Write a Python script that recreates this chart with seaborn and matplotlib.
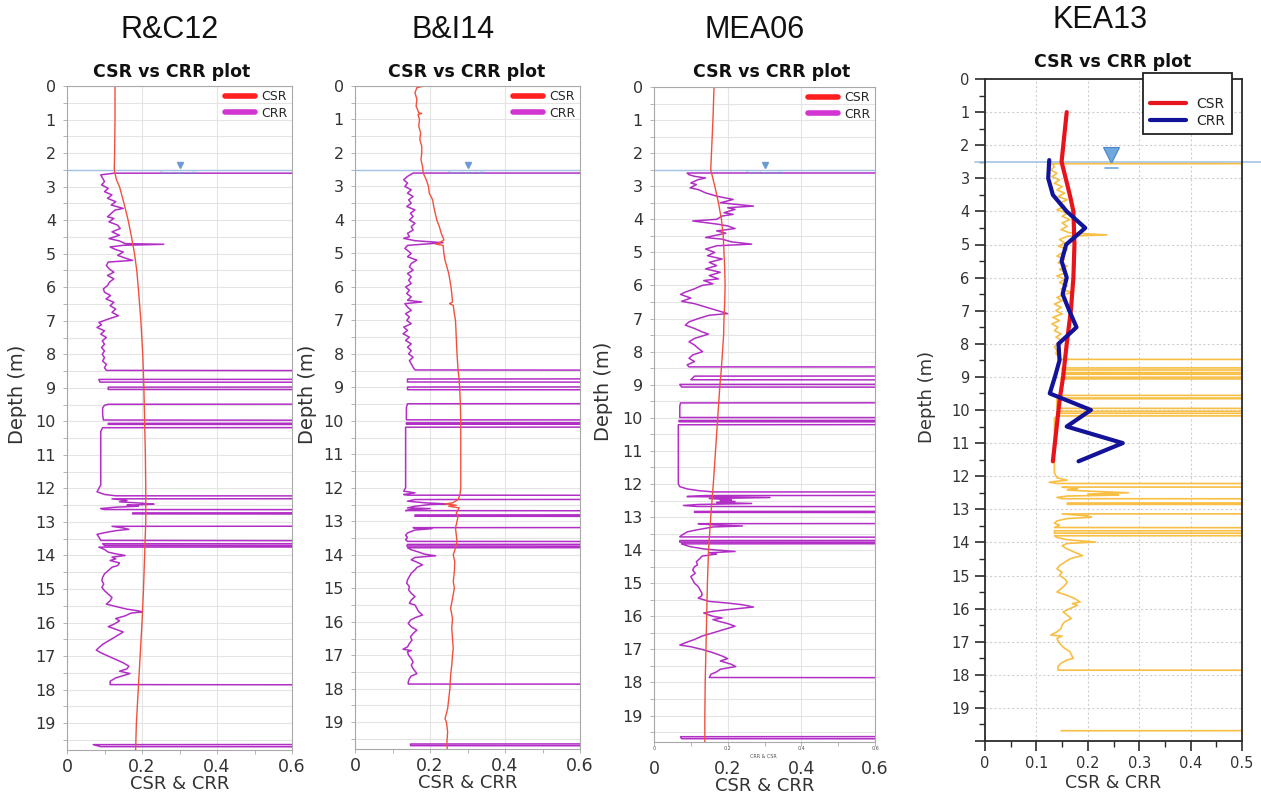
import matplotlib
matplotlib.use("Agg")
import matplotlib.pyplot as plt
import pandas as pd
import seaborn as sns
from matplotlib.lines import Line2D
from matplotlib.ticker import MultipleLocator, FuncFormatter

# ---------------------------------------------------------------- data
NL = 2.0          # CRR assigned to non-liquefiable layers (plots off the axis)
GWT = 2.5         # groundwater table depth (m)

PANELS = ["R&C12", "B&I14", "MEA06", "KEA13"]

RC12_CSR = [(0.0, 0.128), (1.0, 0.128), (2.0, 0.127), (2.5, 0.126), (2.8, 0.132),
            (3.0, 0.140), (3.5, 0.152), (4.0, 0.163), (4.5, 0.172), (5.0, 0.180),
            (5.5, 0.186), (6.0, 0.190), (7.0, 0.197), (8.0, 0.202), (9.0, 0.205),
            (10.0, 0.207), (11.0, 0.209), (12.0, 0.210), (13.0, 0.210), (14.0, 0.207),
            (15.0, 0.204), (16.0, 0.200), (17.0, 0.195), (18.0, 0.190), (19.0, 0.185),
            (19.8, 0.183)]

RC12_CRR = [(2.60, NL), (2.60, 0.125), (2.65, 0.090), (2.75, 0.095), (2.85, 0.100),
            (2.95, 0.092), (3.05, 0.110), (3.15, 0.100), (3.25, 0.120), (3.35, 0.108),
            (3.45, 0.130), (3.55, 0.118), (3.65, 0.150), (3.70, 0.128), (3.80, 0.118),
            (3.90, 0.108), (3.95, 0.125), (4.05, 0.112), (4.15, 0.135), (4.25, 0.142),
            (4.35, 0.120), (4.45, 0.140), (4.55, 0.112), (4.62, 0.140), (4.70, 0.155),
            (4.72, 0.258), (4.75, 0.150), (4.80, 0.115), (4.87, 0.128), (4.95, 0.150),
            (5.05, 0.135), (5.15, 0.160), (5.20, 0.175), (5.25, 0.110), (5.35, 0.105),
            (5.45, 0.112), (5.55, 0.125), (5.65, 0.108), (5.75, 0.125), (5.85, 0.113),
            (5.95, 0.108), (6.05, 0.097), (6.15, 0.100), (6.25, 0.116), (6.35, 0.104),
            (6.45, 0.125), (6.55, 0.115), (6.65, 0.130), (6.75, 0.120), (6.85, 0.137),
            (6.95, 0.110), (7.05, 0.085), (7.12, 0.092), (7.20, 0.080), (7.30, 0.100),
            (7.40, 0.090), (7.50, 0.105), (7.60, 0.094), (7.70, 0.100), (7.80, 0.092),
            (7.90, 0.100), (8.00, 0.094), (8.10, 0.100), (8.20, 0.095), (8.30, 0.105),
            (8.40, 0.100), (8.48, 0.105), (8.50, NL), (8.74, NL), (8.75, 0.085),
            (8.83, 0.088), (8.84, NL), (8.97, NL), (8.98, 0.110), (9.05, 0.110),
            (9.06, NL), (9.48, NL), (9.49, 0.110), (9.52, 0.100), (9.60, 0.095),
            (9.80, 0.095), (9.96, 0.097), (9.98, NL), (10.05, NL), (10.06, 0.110),
            (10.09, 0.110), (10.10, NL), (10.18, NL), (10.19, 0.095), (10.30, 0.090),
            (11.90, 0.090), (12.10, 0.080), (12.18, 0.100), (12.22, 0.130), (12.23, NL),
            (12.30, NL), (12.31, 0.120), (12.36, 0.160), (12.40, 0.140), (12.44, 0.200),
            (12.47, 0.232), (12.50, 0.160), (12.53, 0.190), (12.56, 0.130), (12.60, 0.090),
            (12.63, 0.100), (12.64, NL), (12.72, NL), (12.73, 0.175), (12.76, 0.175),
            (12.77, NL), (13.12, NL), (13.13, 0.120), (13.18, 0.150), (13.22, 0.165),
            (13.26, 0.130), (13.32, 0.100), (13.37, 0.080), (13.45, 0.085), (13.55, 0.090),
            (13.58, NL), (13.64, NL), (13.65, 0.095), (13.70, 0.100), (13.71, NL),
            (13.74, NL), (13.75, 0.085), (13.82, 0.100), (13.90, 0.110), (13.95, 0.130),
            (14.00, 0.155), (14.05, 0.120), (14.10, 0.130), (14.15, 0.115), (14.22, 0.140),
            (14.30, 0.135), (14.35, 0.120), (14.45, 0.110), (14.55, 0.100), (14.65, 0.095),
            (14.75, 0.093), (14.85, 0.098), (14.95, 0.093), (15.05, 0.100), (15.15, 0.110),
            (15.25, 0.120), (15.35, 0.115), (15.45, 0.105), (15.52, 0.130), (15.60, 0.160),
            (15.65, 0.190), (15.68, 0.200), (15.72, 0.170), (15.80, 0.155), (15.88, 0.130),
            (15.95, 0.140), (16.05, 0.125), (16.12, 0.110), (16.20, 0.130), (16.28, 0.150),
            (16.35, 0.140), (16.45, 0.125), (16.55, 0.110), (16.65, 0.095), (16.75, 0.085),
            (16.82, 0.078), (16.90, 0.090), (17.00, 0.110), (17.10, 0.130), (17.20, 0.150),
            (17.30, 0.165), (17.38, 0.160), (17.45, 0.140), (17.52, 0.168), (17.58, 0.150),
            (17.65, 0.130), (17.75, 0.115), (17.85, 0.115), (17.87, NL), (19.63, NL),
            (19.64, 0.070), (19.70, 0.090), (19.71, NL)]

BI14_CSR = [(0.00, 0.185), (0.05, 0.165), (0.20, 0.160), (0.40, 0.165), (0.60, 0.163),
            (0.80, 0.170), (0.82, 0.178), (0.85, 0.168), (1.00, 0.172), (1.20, 0.170),
            (1.40, 0.175), (1.60, 0.173), (1.80, 0.178), (2.00, 0.178), (2.20, 0.176),
            (2.40, 0.180), (2.60, 0.182), (2.80, 0.190), (3.00, 0.196), (3.20, 0.198),
            (3.40, 0.207), (3.60, 0.210), (3.80, 0.214), (4.00, 0.218), (4.20, 0.225),
            (4.40, 0.230), (4.60, 0.237), (4.68, 0.225), (4.72, 0.215), (4.76, 0.235),
            (5.00, 0.237), (5.20, 0.240), (5.40, 0.245), (5.60, 0.250), (5.80, 0.253),
            (6.00, 0.256), (6.20, 0.258), (6.45, 0.260), (6.50, 0.252), (6.55, 0.262),
            (6.80, 0.265), (7.00, 0.268), (7.50, 0.270), (8.00, 0.272), (8.50, 0.275),
            (8.80, 0.278), (9.00, 0.279), (9.50, 0.281), (10.00, 0.282), (11.00, 0.282),
            (12.00, 0.282), (12.20, 0.280), (12.35, 0.275), (12.45, 0.260), (12.48, 0.240),
            (12.52, 0.270), (12.55, 0.250), (12.60, 0.278), (12.75, 0.270), (12.85, 0.275),
            (13.00, 0.272), (13.20, 0.268), (13.40, 0.270), (13.60, 0.272), (13.80, 0.268),
            (14.00, 0.262), (14.20, 0.266), (14.50, 0.265), (14.80, 0.262), (15.00, 0.265),
            (15.30, 0.260), (15.60, 0.255), (15.90, 0.260), (16.20, 0.258), (16.50, 0.260),
            (16.80, 0.262), (17.00, 0.260), (17.30, 0.258), (17.60, 0.255), (18.00, 0.253),
            (18.30, 0.250), (18.60, 0.247), (18.90, 0.240), (19.00, 0.244), (19.30, 0.247),
            (19.60, 0.245), (19.80, 0.246)]

BI14_CRR = [(2.60, NL), (2.60, 0.155), (2.70, 0.140), (2.80, 0.130), (2.90, 0.140),
            (3.00, 0.133), (3.10, 0.150), (3.20, 0.140), (3.30, 0.155), (3.40, 0.143),
            (3.50, 0.150), (3.60, 0.138), (3.70, 0.160), (3.80, 0.148), (3.90, 0.155),
            (4.00, 0.145), (4.10, 0.160), (4.20, 0.150), (4.30, 0.155), (4.40, 0.140),
            (4.50, 0.145), (4.55, 0.130), (4.62, 0.160), (4.68, 0.235), (4.76, 0.140),
            (4.85, 0.133), (5.00, 0.150), (5.10, 0.140), (5.20, 0.165), (5.30, 0.150),
            (5.40, 0.145), (5.50, 0.155), (5.60, 0.140), (5.70, 0.150), (5.80, 0.143),
            (5.90, 0.150), (6.00, 0.135), (6.10, 0.145), (6.20, 0.138), (6.30, 0.150),
            (6.40, 0.140), (6.45, 0.178), (6.50, 0.133), (6.60, 0.140), (6.70, 0.150),
            (6.80, 0.135), (6.90, 0.145), (7.00, 0.138), (7.10, 0.150), (7.20, 0.130),
            (7.30, 0.140), (7.40, 0.128), (7.50, 0.145), (7.60, 0.135), (7.70, 0.150),
            (7.80, 0.140), (7.90, 0.150), (8.00, 0.143), (8.10, 0.155), (8.20, 0.145),
            (8.30, 0.150), (8.40, 0.155), (8.48, 0.160), (8.50, NL), (8.74, NL),
            (8.75, 0.140), (8.84, 0.140), (8.85, NL), (8.98, NL), (8.99, 0.140),
            (9.07, 0.140), (9.08, NL), (9.48, NL), (9.49, 0.140), (9.60, 0.137),
            (9.97, 0.137), (9.98, NL), (10.05, NL), (10.06, 0.137), (10.10, 0.137),
            (10.11, NL), (10.18, NL), (10.19, 0.135), (12.00, 0.135), (12.10, 0.130),
            (12.15, 0.160), (12.20, 0.130), (12.22, 0.140), (12.23, NL), (12.34, NL),
            (12.35, 0.160), (12.40, 0.140), (12.45, 0.190), (12.48, 0.245), (12.50, 0.200),
            (12.55, 0.160), (12.60, 0.140), (12.62, 0.200), (12.65, 0.150), (12.68, 0.135),
            (12.70, NL), (12.80, NL), (12.81, 0.160), (12.85, 0.160), (12.86, NL),
            (13.18, NL), (13.19, 0.155), (13.22, 0.205), (13.26, 0.160), (13.35, 0.140),
            (13.42, 0.135), (13.48, 0.140), (13.55, 0.135), (13.60, 0.140), (13.61, NL),
            (13.68, NL), (13.69, 0.140), (13.74, 0.138), (13.75, NL), (13.78, NL),
            (13.79, 0.140), (13.85, 0.150), (13.92, 0.170), (13.98, 0.185), (14.03, 0.215),
            (14.08, 0.160), (14.15, 0.150), (14.22, 0.165), (14.30, 0.180), (14.38, 0.165),
            (14.45, 0.160), (14.55, 0.150), (14.65, 0.145), (14.75, 0.140), (14.85, 0.138),
            (14.95, 0.145), (15.05, 0.143), (15.15, 0.150), (15.25, 0.160), (15.35, 0.150),
            (15.45, 0.145), (15.50, 0.160), (15.60, 0.165), (15.70, 0.170), (15.80, 0.180),
            (15.88, 0.160), (15.95, 0.148), (16.05, 0.142), (16.15, 0.150), (16.25, 0.165),
            (16.35, 0.155), (16.45, 0.148), (16.55, 0.152), (16.65, 0.145), (16.75, 0.140),
            (16.82, 0.128), (16.86, 0.150), (16.90, 0.140), (17.00, 0.143), (17.10, 0.150),
            (17.20, 0.155), (17.30, 0.150), (17.40, 0.155), (17.50, 0.162), (17.55, 0.165),
            (17.62, 0.150), (17.70, 0.145), (17.80, 0.142), (17.86, 0.142), (17.87, NL),
            (19.64, NL), (19.65, 0.148), (19.70, 0.148), (19.71, NL)]

MEA06_CSR = [(0.0, 0.163), (1.0, 0.160), (2.0, 0.156), (2.5, 0.154), (3.0, 0.165),
             (3.5, 0.175), (4.0, 0.183), (4.5, 0.188), (5.0, 0.190), (5.5, 0.192),
             (6.0, 0.193), (6.5, 0.192), (7.0, 0.190), (7.5, 0.189), (8.0, 0.186),
             (8.5, 0.183), (9.0, 0.179), (9.5, 0.176), (10.0, 0.173), (11.0, 0.167),
             (12.0, 0.161), (13.0, 0.154), (14.0, 0.148), (15.0, 0.145), (16.0, 0.143),
             (17.0, 0.141), (18.0, 0.139), (19.0, 0.138), (19.8, 0.138)]

MEA06_CRR = [(2.60, NL), (2.60, 0.090), (2.65, 0.095), (2.70, 0.110), (2.75, 0.140),
             (2.80, 0.120), (2.90, 0.100), (2.95, 0.115), (3.05, 0.098), (3.10, 0.120),
             (3.20, 0.140), (3.30, 0.170), (3.40, 0.215), (3.50, 0.180), (3.60, 0.270),
             (3.65, 0.200), (3.70, 0.220), (3.80, 0.190), (3.85, 0.215), (3.90, 0.185),
             (4.00, 0.170), (4.05, 0.105), (4.10, 0.140), (4.15, 0.175), (4.20, 0.200),
             (4.28, 0.220), (4.35, 0.170), (4.42, 0.195), (4.50, 0.160), (4.55, 0.140),
             (4.60, 0.185), (4.68, 0.210), (4.75, 0.265), (4.80, 0.170), (4.90, 0.140),
             (5.00, 0.165), (5.10, 0.145), (5.20, 0.185), (5.30, 0.150), (5.40, 0.170),
             (5.50, 0.140), (5.60, 0.180), (5.70, 0.150), (5.80, 0.175), (5.85, 0.135),
             (5.95, 0.160), (6.00, 0.130), (6.10, 0.110), (6.20, 0.085), (6.27, 0.072),
             (6.38, 0.100), (6.48, 0.075), (6.55, 0.110), (6.65, 0.140), (6.75, 0.170),
             (6.85, 0.200), (6.90, 0.150), (7.00, 0.120), (7.10, 0.095), (7.20, 0.085),
             (7.30, 0.110), (7.40, 0.130), (7.47, 0.148), (7.60, 0.110), (7.70, 0.095),
             (7.80, 0.110), (7.90, 0.120), (8.00, 0.132), (8.10, 0.105), (8.20, 0.095),
             (8.30, 0.110), (8.40, 0.090), (8.46, 0.095), (8.47, NL), (8.73, NL),
             (8.74, 0.110), (8.85, 0.100), (8.86, NL), (8.98, NL), (8.99, 0.070),
             (9.07, 0.075), (9.08, NL), (9.54, NL), (9.55, 0.072), (9.65, 0.070),
             (9.99, 0.070), (10.00, NL), (10.07, NL), (10.08, 0.068), (10.12, 0.068),
             (10.13, NL), (10.20, NL), (10.21, 0.066), (12.00, 0.066), (12.08, 0.070),
             (12.15, 0.090), (12.20, 0.120), (12.24, 0.160), (12.25, NL), (12.34, NL),
             (12.35, 0.140), (12.38, 0.090), (12.41, 0.315), (12.44, 0.150), (12.48, 0.210),
             (12.50, 0.180), (12.53, 0.220), (12.56, 0.170), (12.59, 0.265), (12.62, 0.120),
             (12.65, 0.080), (12.68, 0.115), (12.70, NL), (12.82, NL), (12.83, 0.110),
             (12.86, 0.110), (12.87, NL), (13.19, NL), (13.20, 0.120), (13.24, 0.165),
             (13.27, 0.240), (13.30, 0.160), (13.40, 0.110), (13.45, 0.090), (13.55, 0.075),
             (13.60, 0.070), (13.63, NL), (13.70, NL), (13.71, 0.070), (13.76, 0.070),
             (13.77, NL), (13.80, NL), (13.81, 0.075), (13.85, 0.085), (13.90, 0.100),
             (13.97, 0.140), (14.04, 0.220), (14.08, 0.150), (14.12, 0.170), (14.18, 0.130),
             (14.25, 0.125), (14.35, 0.115), (14.45, 0.118), (14.50, 0.110), (14.60, 0.105),
             (14.70, 0.112), (14.80, 0.100), (14.90, 0.105), (15.00, 0.110), (15.10, 0.120),
             (15.20, 0.125), (15.30, 0.130), (15.38, 0.130), (15.45, 0.120), (15.55, 0.150),
             (15.60, 0.200), (15.65, 0.240), (15.72, 0.270), (15.80, 0.200), (15.85, 0.160),
             (15.90, 0.135), (16.00, 0.160), (16.05, 0.185), (16.10, 0.160), (16.15, 0.175),
             (16.22, 0.200), (16.30, 0.220), (16.40, 0.190), (16.50, 0.160), (16.60, 0.130),
             (16.70, 0.110), (16.80, 0.085), (16.87, 0.070), (16.92, 0.100), (17.00, 0.130),
             (17.10, 0.160), (17.20, 0.185), (17.28, 0.200), (17.35, 0.180), (17.45, 0.210),
             (17.52, 0.222), (17.60, 0.180), (17.68, 0.170), (17.75, 0.155), (17.85, 0.150),
             (17.87, NL), (19.63, NL), (19.64, 0.072), (19.70, 0.075), (19.71, NL)]

KEA13_CSR = [(1.0, 0.159), (2.5, 0.149), (3.0, 0.157), (3.5, 0.165), (4.0, 0.172),
             (5.0, 0.174), (6.0, 0.172), (7.0, 0.167), (8.0, 0.159), (9.0, 0.152),
             (9.6, 0.146), (10.0, 0.143), (11.0, 0.136), (11.55, 0.132)]

KEA13_CRR = [(2.45, 0.125), (3.0, 0.123), (3.5, 0.132), (4.0, 0.159), (4.5, 0.195),
             (5.0, 0.158), (5.5, 0.149), (6.0, 0.159), (6.5, 0.151), (7.0, 0.164),
             (7.5, 0.178), (8.0, 0.143), (8.5, 0.145), (9.0, 0.136), (9.5, 0.126),
             (10.0, 0.206), (10.5, 0.159), (11.0, 0.268), (11.55, 0.182)]

# CPT-based CRR profile behind the KEA13 curves
KEA13_CPT_CRR = [(2.55, NL), (2.56, 0.130), (2.65, 0.135), (2.75, 0.128), (2.85, 0.140),
                 (2.95, 0.130), (3.05, 0.145), (3.15, 0.135), (3.25, 0.150), (3.35, 0.140),
                 (3.45, 0.155), (3.55, 0.142), (3.65, 0.160), (3.75, 0.145), (3.85, 0.155),
                 (3.95, 0.140), (4.05, 0.160), (4.15, 0.150), (4.25, 0.165), (4.35, 0.150),
                 (4.45, 0.160), (4.55, 0.148), (4.65, 0.165), (4.71, 0.237), (4.75, 0.160),
                 (4.85, 0.145), (4.95, 0.155), (5.05, 0.143), (5.15, 0.160), (5.25, 0.150),
                 (5.35, 0.140), (5.45, 0.155), (5.55, 0.142), (5.65, 0.160), (5.75, 0.145),
                 (5.85, 0.158), (5.95, 0.140), (6.05, 0.155), (6.15, 0.145), (6.25, 0.160),
                 (6.35, 0.148), (6.45, 0.170), (6.50, 0.155), (6.60, 0.140), (6.70, 0.150),
                 (6.80, 0.135), (6.90, 0.148), (7.00, 0.138), (7.10, 0.150), (7.20, 0.132),
                 (7.30, 0.145), (7.40, 0.130), (7.50, 0.142), (7.60, 0.135), (7.70, 0.148),
                 (7.80, 0.138), (7.90, 0.150), (8.00, 0.140), (8.10, 0.135), (8.20, 0.140),
                 (8.30, 0.138), (8.40, 0.145), (8.47, 0.150), (8.48, NL), (8.72, NL),
                 (8.73, 0.150), (8.79, 0.150), (8.80, NL), (8.86, NL), (8.87, 0.150),
                 (8.92, 0.150), (8.93, NL), (9.00, NL), (9.01, 0.148), (9.06, 0.148),
                 (9.07, NL), (9.55, NL), (9.56, 0.145), (9.64, 0.145), (9.65, NL),
                 (9.66, 0.140), (9.95, 0.140), (9.96, NL), (10.03, NL), (10.04, 0.140),
                 (10.10, 0.140), (10.11, NL), (10.17, NL), (10.18, 0.140), (10.25, 0.135),
                 (11.90, 0.135), (12.05, 0.140), (12.12, 0.160), (12.18, 0.125), (12.22, 0.140),
                 (12.23, NL), (12.32, NL), (12.33, 0.150), (12.38, 0.180), (12.42, 0.160),
                 (12.45, 0.200), (12.50, 0.279), (12.54, 0.200), (12.57, 0.260), (12.60, 0.160),
                 (12.64, 0.140), (12.68, 0.150), (12.69, NL), (12.80, NL), (12.81, 0.160),
                 (12.85, 0.160), (12.86, NL), (13.13, NL), (13.14, 0.150), (13.20, 0.200),
                 (13.24, 0.207), (13.28, 0.160), (13.35, 0.140), (13.42, 0.135), (13.48, 0.145),
                 (13.55, 0.135), (13.58, NL), (13.64, NL), (13.65, 0.135), (13.72, 0.135),
                 (13.73, NL), (13.79, NL), (13.80, 0.135), (13.85, 0.140), (13.92, 0.160),
                 (13.99, 0.215), (14.03, 0.160), (14.10, 0.150), (14.20, 0.160), (14.30, 0.175),
                 (14.40, 0.190), (14.45, 0.175), (14.50, 0.165), (14.60, 0.155), (14.70, 0.145),
                 (14.80, 0.140), (14.90, 0.150), (15.00, 0.145), (15.10, 0.155), (15.20, 0.160),
                 (15.30, 0.155), (15.40, 0.148), (15.50, 0.140), (15.60, 0.160), (15.70, 0.175),
                 (15.80, 0.185), (15.85, 0.170), (15.90, 0.180), (16.00, 0.165), (16.10, 0.152),
                 (16.20, 0.160), (16.30, 0.168), (16.40, 0.155), (16.50, 0.150), (16.60, 0.148),
                 (16.70, 0.140), (16.80, 0.128), (16.83, 0.150), (16.90, 0.140), (17.00, 0.143),
                 (17.10, 0.148), (17.20, 0.155), (17.30, 0.165), (17.40, 0.168), (17.50, 0.172),
                 (17.55, 0.160), (17.65, 0.148), (17.75, 0.142), (17.86, 0.142), (17.87, NL),
                 (19.68, NL), (19.69, 0.148)]


def frame(pairs):
    return pd.DataFrame(pairs, columns=["depth", "ratio"])


# ---------------------------------------------------------------- style
sns.set_theme(style="white")
plt.rcParams["font.family"] = ["DejaVu Sans"]

W, H = 1261, 796
fig = plt.figure(figsize=(W / 100, H / 100), dpi=100)


def add_axes_px(left, right, top, bottom):
    return fig.add_axes([left / W, 1 - bottom / H, (right - left) / W, (bottom - top) / H])


def ratio_fmt(v, _):
    return "0" if abs(v) < 1e-9 else f"{v:.1f}"


CSR_COL = "#f2503f"
CRR_COL = "#b22fc6"
WT_COL = "#a3c3e6"
WT_MARK = "#6b9bd2"
TXT = "#333333"

# ---------------------------------------------------------------- panels 1-3
boxes = [(67, 292, 86, 750), (355, 580, 86, 749), (654, 875, 87, 742)]
profiles = [(RC12_CSR, RC12_CRR), (BI14_CSR, BI14_CRR), (MEA06_CSR, MEA06_CRR)]
title_x = [170, 453, 755]
sub_x = [172, 467, 772]
ylab_x = [27, 317, 613]     # right-hand edge of the rotated depth label
WT_MARK_X = 0.30

for i, ((csr, crr), box) in enumerate(zip(profiles, boxes)):
    ax = add_axes_px(*box)
    ax.set_xlim(0, 0.6)
    ax.set_ylim(19.8, 0)
    ax.xaxis.set_major_locator(MultipleLocator(0.2))
    ax.xaxis.set_minor_locator(MultipleLocator(0.1))
    ax.yaxis.set_major_locator(MultipleLocator(1))
    ax.yaxis.set_minor_locator(MultipleLocator(0.5))
    ax.xaxis.set_major_formatter(FuncFormatter(ratio_fmt))
    ax.grid(True, which="both", axis="y", color="#e4e4e4", lw=0.8)
    ax.grid(True, which="major", axis="x", color="#e4e4e4", lw=0.8)
    ax.set_axisbelow(True)
    for s in ax.spines.values():
        s.set_color("#a8a8a8")
        s.set_linewidth(0.8)
    ax.tick_params(which="both", direction="out", color="#a8a8a8", length=3, width=0.6,
                   left=True, bottom=True)
    ax.tick_params(axis="y", which="major", labelsize=11.5, labelcolor=TXT, pad=5)
    ax.tick_params(axis="x", which="major", labelsize=12.5, labelcolor=TXT,
                   pad=10 if i == 2 else 3)

    ax.axhline(GWT, color=WT_COL, lw=1.0, zorder=1)
    ax.plot([WT_MARK_X], [GWT - 0.13], marker="v", ms=4.5, color=WT_MARK, ls="none")
    ax.text(WT_MARK_X, GWT + 0.1, "Ground water table", fontsize=2.8, color=WT_MARK,
            ha="center", va="center")

    sns.lineplot(data=frame(crr), x="ratio", y="depth", sort=False, estimator=None,
                 color=CRR_COL, lw=1.1, ax=ax)
    sns.lineplot(data=frame(csr), x="ratio", y="depth", sort=False, estimator=None,
                 color=CSR_COL, lw=1.0, ax=ax)

    handles = [Line2D([], [], color="#ff1f1f", lw=4), Line2D([], [], color="#d236d2", lw=4)]
    ax.legend(handles, ["CSR", "CRR"], loc="upper right", frameon=False, fontsize=9,
              handlelength=2.4, handletextpad=0.5, labelspacing=0.25,
              borderaxespad=0.15, borderpad=0.2)

    ax.set_xlabel("CSR & CRR", fontsize=13, color=TXT, labelpad=-1)
    ax.set_ylabel("Depth (m)", fontsize=14, color=TXT)
    ax.yaxis.set_label_coords((ylab_x[i] - box[0]) / (box[1] - box[0]), 0.535)

    fig.text(title_x[i] / W, 1 - 30 / H, PANELS[i], fontsize=22,
             family="Liberation Sans", ha="center", va="center", color="#111111")
    fig.text(sub_x[i] / W, 1 - 72 / H, "CSR vs CRR plot", fontsize=12.5,
             fontweight="bold", ha="center", va="center", color="#111111")

    if i == 2:
        tr = ax.get_xaxis_transform()
        for v in [0, 0.2, 0.4, 0.6]:
            ax.text(v, -0.006, ratio_fmt(v, None), transform=tr, fontsize=3.5,
                    color="#555555", ha="center", va="top")
        ax.text(0.296, -0.018, "CRR & CSR", transform=tr, fontsize=3.5,
                color="#555555", ha="center", va="top")

# ---------------------------------------------------------------- KEA13 panel
box4 = (985, 1242, 79, 741)
ax = add_axes_px(*box4)
ax.set_xlim(0, 0.5)
ax.set_ylim(20, 0)
ax.xaxis.set_major_locator(MultipleLocator(0.1))
ax.xaxis.set_minor_locator(MultipleLocator(0.05))
ax.yaxis.set_major_locator(MultipleLocator(1))
ax.yaxis.set_minor_locator(MultipleLocator(0.5))
ax.xaxis.set_major_formatter(FuncFormatter(ratio_fmt))
ax.yaxis.set_major_formatter(FuncFormatter(lambda v, _: "" if v > 19.5 else f"{v:.0f}"))
ax.grid(True, which="major", color="#cfcfcf", lw=0.8, ls=(0, (2, 2)))
ax.set_axisbelow(True)
for s in ax.spines.values():
    s.set_color("#2b2b2b")
    s.set_linewidth(1.3)
ax.tick_params(which="major", direction="out", color="#2b2b2b", length=7, width=1.2,
               left=True, bottom=True, labelsize=10.5, labelcolor=TXT, pad=4)
ax.tick_params(which="minor", direction="out", color="#2b2b2b", length=4, width=1.0,
               left=True, bottom=True)

WT4_X = 0.246
ax.axhline(GWT, xmin=-0.04, xmax=1.08, color=WT_COL, lw=1.2, clip_on=False, zorder=1)
ax.plot([WT4_X], [GWT - 0.2], marker="v", ms=12, mfc="#6fa8dc", mec="#4a86c5",
        mew=0.8, ls="none", clip_on=False)
ax.plot([WT4_X - 0.012, WT4_X + 0.012], [GWT + 0.2, GWT + 0.2], color="#6fa8dc", lw=1.2)

sns.lineplot(data=frame(KEA13_CPT_CRR), x="ratio", y="depth", sort=False, estimator=None,
             color="#f7bf45", lw=1.2, ax=ax)
sns.lineplot(data=frame(KEA13_CSR), x="ratio", y="depth", sort=False, estimator=None,
             color="#e8141b", lw=3.0, ax=ax)
sns.lineplot(data=frame(KEA13_CRR), x="ratio", y="depth", sort=False, estimator=None,
             color="#13139a", lw=3.0, ax=ax)

handles = [Line2D([], [], color="#e8141b", lw=3), Line2D([], [], color="#13139a", lw=3)]
leg = ax.legend(handles, ["CSR", "CRR"], loc="upper left", bbox_to_anchor=(0.615, 1.009),
                frameon=True, fancybox=False, edgecolor="#222222", framealpha=1,
                fontsize=10, title=" ", title_fontsize=10, handlelength=2.6,
                handletextpad=0.7, labelspacing=0.2, borderpad=0.5, borderaxespad=0)
leg.get_frame().set_linewidth(1.3)

ax.set_xlabel("CSR & CRR", fontsize=12.5, color=TXT, labelpad=2)
ax.set_ylabel("Depth (m)", fontsize=13, color=TXT)
ax.yaxis.set_label_coords((936 - box4[0]) / (box4[1] - box4[0]), 0.52)

fig.text(1100 / W, 1 - 20 / H, PANELS[3], fontsize=22, family="Liberation Sans",
         ha="center", va="center", color="#111111")
fig.text(1113 / W, 1 - 62 / H, "CSR vs CRR plot", fontsize=12.5, fontweight="bold",
         ha="center", va="center", color="#111111")

fig.savefig("out.png", dpi=100)
